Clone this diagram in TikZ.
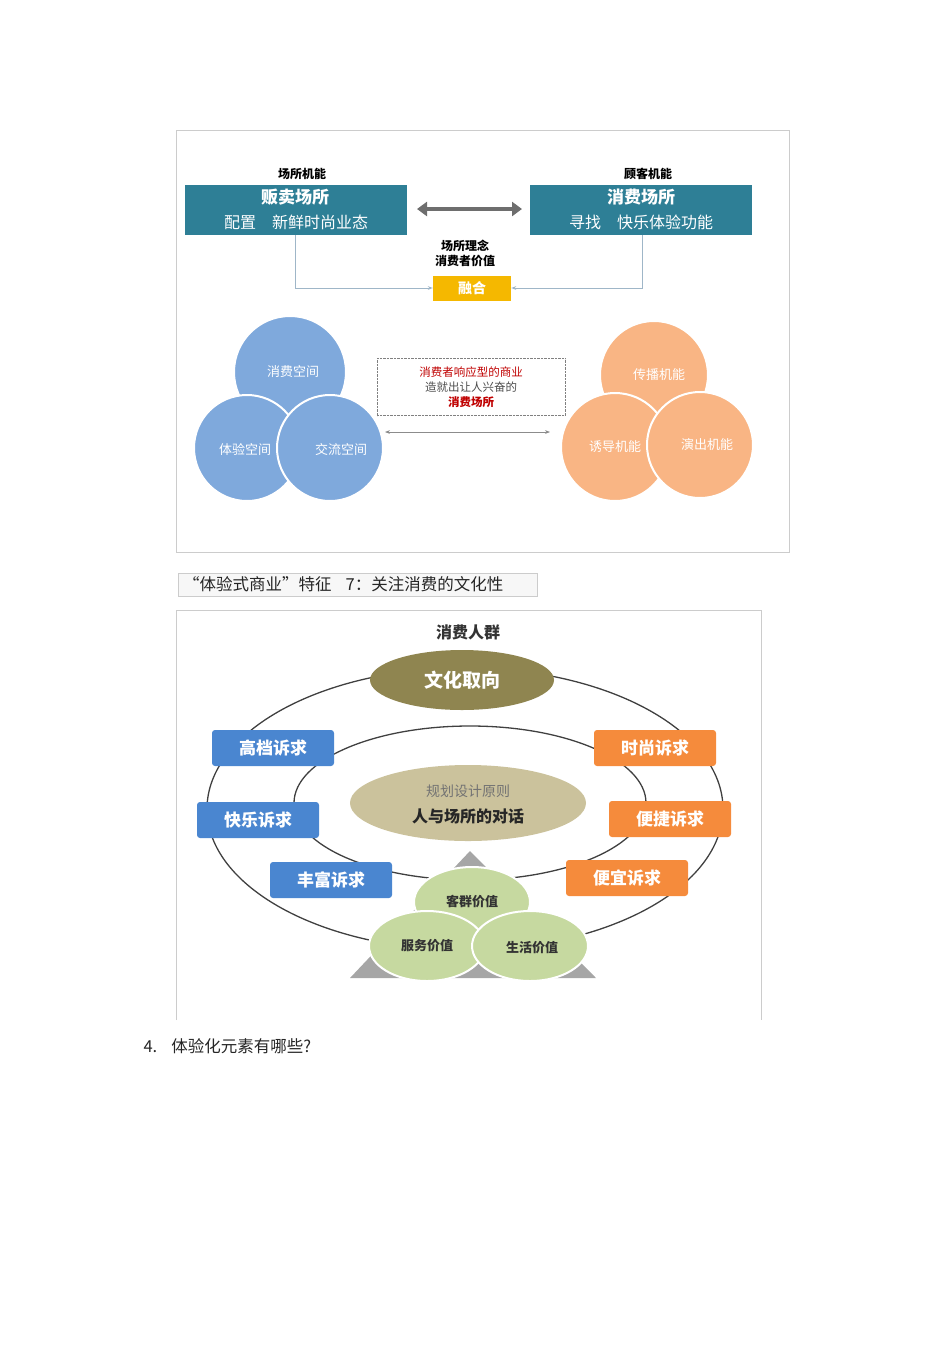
\documentclass[tikz,border=0pt]{standalone}
\usepackage{fontspec}
\setmainfont{Noto Sans CJK SC}
\usetikzlibrary{shapes.geometric,arrows.meta}
\definecolor{teal}{HTML}{2E7F96}
\definecolor{gold}{HTML}{F5B800}
\definecolor{bcirc}{HTML}{7FA9DC}
\definecolor{ocirc}{HTML}{F9B584}
\definecolor{bbox}{HTML}{4A86D0}
\definecolor{obox}{HTML}{F58B3C}
\definecolor{olive}{HTML}{8F8550}
\definecolor{khaki}{HTML}{CBC29C}
\definecolor{grn}{HTML}{C6D9A0}
\definecolor{lnk}{HTML}{9FB6C8}
\definecolor{arw}{HTML}{6E6E6E}
\tikzset{
 tbox/.style={fill=teal,text=white,minimum width=222pt,minimum height=50pt,inner sep=0pt},
 bc/.style={circle,fill=bcirc,draw=white,line width=2pt},
 oc/.style={circle,fill=ocirc,draw=white,line width=2pt},
 ctext/.style={text=white,font=\fontsize{13}{13}\selectfont},
 rb/.style={rounded corners=3pt,minimum width=122pt,minimum height=36pt,text=white,font=\fontsize{17}{17}\selectfont\bfseries},
 ge/.style={ellipse,fill=grn,draw=white,line width=2pt,minimum width=116pt,minimum height=70pt},
 gt/.style={font=\fontsize{13}{13}\selectfont\bfseries,text=black!80},
 lbl/.style={font=\fontsize{12}{15}\selectfont\bfseries}
}
\begin{document}
\begin{tikzpicture}[x=1pt,y=-1pt]
\useasboundingbox (0,0) rectangle (950,1345);
% top frame
\draw[black!20] (176,130) rectangle (789,552);
\node[lbl] (t1) at (302,174) {场所机能};
\node[lbl] (t2) at (648,174) {顾客机能};
\node[tbox] (L) at (296,210) {};
\node[text=white,font=\fontsize{17}{17}\selectfont\bfseries] (L1) at (295,197) {贩卖场所};
\node[text=white,font=\fontsize{16}{16}\selectfont] (L2) at (296,222) {配置\quad 新鲜时尚业态};
\node[tbox] (R) at (641,210) {};
\node[text=white,font=\fontsize{17}{17}\selectfont\bfseries] (R1) at (641,197) {消费场所};
\node[text=white,font=\fontsize{16}{16}\selectfont] (R2) at (641,222) {寻找\quad 快乐体验功能};
\coordinate (la) at (417,209);
\coordinate (lb) at (522,209);
\draw[draw=arw,line width=3.5pt,{Triangle[length=10pt,width=14pt,fill=arw]}-{Triangle[length=10pt,width=14pt,fill=arw]}] (la) -- (lb);
\node[lbl,align=center] (idea) at (465,253) {场所理念\\消费者价值};
\node[fill=gold,text=white,minimum width=78pt,minimum height=25pt,font=\fontsize{14}{14}\selectfont\bfseries] (F) at (472,288) {融合};
\draw[lnk,line width=0.8pt,-{Stealth[length=5pt,open]}] (295,235) |- (F.west);
\draw[lnk,line width=0.8pt,-{Stealth[length=5pt,open]}] (642,235) |- (F.east);
% circles
\node[bc,minimum size=112pt] (c1) at (290,372) {};
\node[bc,minimum size=106pt] (c2) at (247,448) {};
\node[bc,minimum size=106pt] (c3) at (330,448) {};
\node[ctext] at (293,372) {消费空间};
\node[ctext] at (245,450) {体验空间};
\node[ctext] at (341,450) {交流空间};
\node[oc,minimum size=108pt] (o1) at (654,375) {};
\node[oc,minimum size=108pt] (o2) at (615,447) {};
\node[oc,minimum size=106pt] (o3) at (700,445) {};
\node[ctext] at (659,375) {传播机能};
\node[ctext] at (615,447) {诱导机能};
\node[ctext] at (707,445) {演出机能};
\node[draw=black!50,densely dotted,minimum width=188pt,minimum height=57pt,align=center,font=\fontsize{11.5}{15}\selectfont] (D) at (471,387)
 {\textcolor{red!75!black}{消费者响应型的商业}\\\textcolor{black!70}{造就出让人兴奋的}\\\textcolor{red!75!black}{\bfseries 消费场所}};
\coordinate (da) at (385,432);
\coordinate (db) at (550,432);
\draw[black!45,line width=0.6pt,{Stealth[length=5pt]}-{Stealth[length=5pt]}] (da) -- (db);
% caption
\node[draw=black!20,fill=black!3,minimum height=23pt,minimum width=359pt] (cap) at (357.5,584.5) {};
\node[anchor=west,font=\fontsize{16.5}{16.5}\selectfont,text=black!85,inner sep=0pt] (capt) at (183,584.5) {“体验式商业”特征\hspace{14pt}7：关注消费的文化性};
% second frame
\draw[black!20] (176,1020) -- (176,610) -- (761,610) -- (761,1020);
\node[font=\fontsize{16}{16}\selectfont\bfseries,text=black!80] (crowd) at (468,632) {消费人群};
\draw[black!75,line width=1.3pt] (465,809) ellipse [x radius=258,y radius=141];
\draw[black!75,line width=1.3pt] (470,803) ellipse [x radius=176,y radius=77];
\draw[fill=black!35,draw=none] (470,851) -- (596,978) -- (350,978) -- cycle;
\node[ellipse,fill=olive,minimum width=184pt,minimum height=60pt,text=white,font=\fontsize{19}{19}\selectfont\bfseries] (cult) at (462,680) {文化取向};
\node[ellipse,fill=khaki,minimum width=236pt,minimum height=76pt] (ctr) at (468,803) {};
\node[text=black!55,font=\fontsize{14}{14}\selectfont] (ctr1) at (468,791) {规划设计原则};
\node[text=black!85,font=\fontsize{16}{16}\selectfont\bfseries] (ctr2) at (468,816) {人与场所的对话};
\node[rb,fill=bbox] (b1) at (273,748) {高档诉求};
\node[rb,fill=bbox] (b2) at (258,820) {快乐诉求};
\node[rb,fill=bbox] (b3) at (331,880) {丰富诉求};
\node[rb,fill=obox] (r1) at (655,748) {时尚诉求};
\node[rb,fill=obox] (r2) at (670,819) {便捷诉求};
\node[rb,fill=obox] (r3) at (627,878) {便宜诉求};
\node[ge] (g1) at (472,902) {};
\node[ge] (g2) at (427,946) {};
\node[ge] (g3) at (530,946) {};
\node[gt] at (472,902) {客群价值};
\node[gt] at (427,946) {服务价值};
\node[gt] at (532,948) {生活价值};
% footer
\node[anchor=west,font=\fontsize{16.5}{16.5}\selectfont,text=black!85] (q) at (140,1046) {4.\hspace{14pt}体验化元素有哪些?};
\end{tikzpicture}
\end{document}
